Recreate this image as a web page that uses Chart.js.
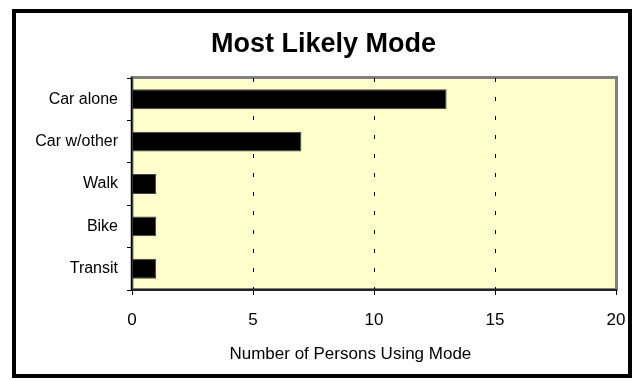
<!DOCTYPE html>
<html>
<head>
<meta charset="utf-8">
<script src="https://cdn.jsdelivr.net/npm/chart.js@4/dist/chart.umd.min.js"></script>
<style>
  html, body { margin: 0; padding: 0; background: #fff; }
  #wrap { position: relative; width: 635px; height: 381px; }
  #frame {
    position: absolute; left: 12px; top: 9px; width: 620px; height: 369px;
    box-sizing: border-box; border: 4px solid #000; pointer-events: none;
  }
</style>
</head>
<body>
<div id="wrap">
  <canvas id="modeChart" width="635" height="381"></canvas>
  <div id="frame"></div>
</div>
<script>
// data
const modes = ["Car alone", "Car w/other", "Walk", "Bike", "Transit"];
const persons = [13, 7, 1, 1, 1];
const tickValues = [0, 5, 10, 15, 20];

const FONT = "'Liberation Sans', Arial, sans-serif";

// plot area background + gray frame like the old excel chart
const plotBg = {
  id: "plotBg",
  beforeDraw(chart) {
    const { ctx, chartArea: a } = chart;
    ctx.save();
    ctx.fillStyle = "#ffffcc";
    ctx.fillRect(a.left, a.top, a.right - a.left, a.bottom - a.top);
    ctx.strokeStyle = "#808080";
    ctx.lineWidth = 3;
    ctx.strokeRect(a.left, a.top - 0.5, a.right - a.left + 0.5, a.bottom - a.top);
    ctx.restore();
  }
};

const setTicks = scale => {
  scale.ticks = tickValues.map(v => ({ value: v }));
};

// no dashed line on the axis itself or on the right frame
const innerLine = (ctx, col) =>
  (ctx.tick && (ctx.tick.value === 0 || ctx.tick.value === 20)) ? "rgba(0,0,0,0)" : col;

new Chart(document.getElementById("modeChart"), {
  type: "bar",
  data: {
    labels: modes,
    datasets: [{
      data: persons,
      backgroundColor: "#000",
      borderColor: "#404040",
      borderWidth: 1,
      barPercentage: 0.47,
      categoryPercentage: 1
    }]
  },
  options: {
    indexAxis: "y",
    responsive: false,
    animation: false,
    layout: { padding: { top: 17, left: 31, right: 19, bottom: 16 } },
    plugins: {
      legend: { display: false },
      tooltip: { enabled: false },
      title: {
        display: true,
        text: "Most Likely Mode",
        color: "#000",
        font: { family: FONT, size: 27, weight: "bold" },
        padding: { top: 11, bottom: 17.6 }
      }
    },
    scales: {
      x: {
        min: 0,
        max: 20,
        afterBuildTicks: setTicks,
        afterFit: scale => {
          scale.height = 75;
          scale.paddingLeft = 0;
          scale.paddingRight = 9;
        },
        grid: {
          color: ctx => innerLine(ctx, "#000"),
          tickColor: "#000",
          tickLength: 5,
          lineWidth: 1
        },
        border: { display: true, color: "#222", width: 2, dash: [4, 15] },
        ticks: {
          color: "#000",
          padding: 15,
          font: { family: FONT, size: 17 }
        },
        title: {
          display: true,
          // trailing spaces pull the centred title a bit left, like the original
          text: "Number of Persons Using Mode" + "\u00a0".repeat(10),
          color: "#000",
          font: { family: FONT, size: 17 },
          padding: { top: 0, bottom: 0 }
        }
      },
      y: {
        afterFit: scale => { scale.width = 101; },
        grid: {
          drawOnChartArea: false,
          tickColor: "#000",
          tickLength: 5
        },
        border: { display: true, color: "#000", width: 1.5 },
        ticks: {
          color: "#000",
          padding: 9,
          font: { family: FONT, size: 16 }
        }
      }
    }
  },
  plugins: [plotBg]
});
</script>
</body>
</html>
